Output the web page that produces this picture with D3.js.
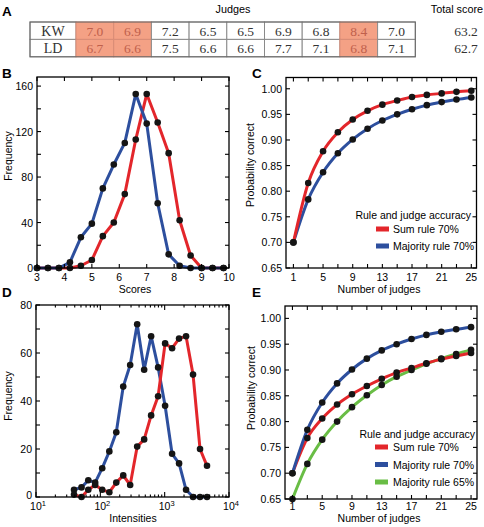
<!DOCTYPE html>
<html><head><meta charset="utf-8">
<script src="https://cdn.jsdelivr.net/npm/d3@7"></script>
<style>body{margin:0;background:#fff}svg{display:block}</style>
</head><body><svg id="c" width="484" height="527"></svg>
<script>
// ---------- data ----------
const judgeNames = ["KW", "LD"];
const scoresKW = [7.0, 6.9, 7.2, 6.5, 6.5, 6.9, 6.8, 8.4, 7.0];
const scoresLD = [6.7, 6.6, 7.5, 6.6, 6.6, 7.7, 7.1, 6.8, 7.1];
const highlightedJudges = [0, 1, 7];
const totalScores = [63.2, 62.7];

const scoreBins = [3.0, 3.4, 3.8, 4.2, 4.6, 5.0, 5.4, 5.8, 6.2, 6.6, 7.0, 7.4, 7.8, 8.2, 8.6, 9.0, 9.4, 9.8];
const scoreFreqBlue = [0, 0, 0, 5, 27, 39, 70, 91, 110, 153, 127, 57, 12, 2, 0, 0, 0, 0];
const scoreFreqRed  = [0, 0, 0, 0, 2, 7, 28, 40, 65, 113, 153, 128, 101, 42, 11, 0, 0, 0];
const scoreTicks = [3, 4, 5, 6, 7, 8, 9, 10];
const freqTicksB = [0, 40, 80, 120, 160];

const intensityBins = [39, 51, 65, 83, 107, 138, 177, 227, 291, 374, 480, 616, 791, 1016, 1304, 1675, 2150, 2761, 3545, 4552];
const intensityBlue = [3, 4, 7, 6, 12, 19, 27, 46, 55, 72, 53, 67, 54, 38, 18, 14, 3, 0, 0, 0];
const intensityRed  = [1, 0, 3, 5, 3, 2, 6, 9, 5, 21, 24, 34, 42, 64, 62, 66, 67, 51, 20, 13];
const freqTicksD = [0, 20, 40, 60, 80];

const nJudges = [1, 3, 5, 7, 9, 11, 13, 15, 17, 19, 21, 23, 25];
const sumRule70C  = [0.700, 0.816, 0.878, 0.915, 0.940, 0.957, 0.969, 0.977, 0.984, 0.988, 0.991, 0.994, 0.996];
const majority70  = [0.700, 0.784, 0.837, 0.874, 0.901, 0.922, 0.938, 0.950, 0.960, 0.968, 0.974, 0.979, 0.983];
const sumRule70E  = [0.700, 0.768, 0.806, 0.833, 0.853, 0.869, 0.883, 0.895, 0.904, 0.913, 0.921, 0.927, 0.933];
const majority65  = [0.650, 0.718, 0.765, 0.800, 0.828, 0.851, 0.871, 0.887, 0.900, 0.912, 0.922, 0.931, 0.939];
const judgeTickLabels = [1, 5, 9, 13, 17, 21, 25];
const probTicks = [0.65, 0.70, 0.75, 0.80, 0.85, 0.90, 0.95, 1.00];

// ---------- style ----------
const SANS = "'Liberation Sans', Arial, Helvetica, sans-serif";
const SERIF = "'Liberation Serif', 'Times New Roman', serif";
const RED = "#e3262b", BLUE = "#2d4f9e", GREEN = "#69bd45";
const svg = d3.select("#c");

// ---------- panel A: table ----------
(function () {
  const g = svg.append("g");
  const x0 = 30, firstW = 46, cellW = 37.7, y0 = 22, rowH = 17.4;
  const rows = [scoresKW, scoresLD];
  const xCell = d3.scaleLinear().domain([0, 9]).range([x0 + firstW, x0 + firstW + 9 * cellW]);
  const yRow = d3.scaleLinear().domain([0, 2]).range([y0, y0 + 2 * rowH]);
  rows.forEach((r, ri) => {
    g.append("rect").attr("x", x0).attr("y", yRow(ri)).attr("width", firstW).attr("height", rowH)
      .attr("fill", "#fff").attr("stroke", "#8a8a8a").attr("stroke-width", 1);
    g.append("text").attr("x", x0 + firstW / 2).attr("y", yRow(ri) + rowH / 2 + 0.5)
      .attr("text-anchor", "middle").attr("dominant-baseline", "central")
      .attr("font-family", SERIF).attr("font-size", 14).attr("fill", "#333").text(judgeNames[ri]);
    r.forEach((v, ci) => {
      const hl = highlightedJudges.includes(ci);
      g.append("rect").attr("x", xCell(ci)).attr("y", yRow(ri)).attr("width", cellW).attr("height", rowH)
        .attr("fill", hl ? "#f4a185" : "#fff").attr("stroke", hl ? "#d98c76" : "#8a8a8a").attr("stroke-width", 1);
      g.append("text").attr("x", xCell(ci) + cellW / 2).attr("y", yRow(ri) + rowH / 2 + 0.5)
        .attr("text-anchor", "middle").attr("dominant-baseline", "central")
        .attr("font-family", SERIF).attr("font-size", 13.5).attr("fill", hl ? "#c0604c" : "#333")
        .text(d3.format(".1f")(v));
    });
    g.append("text").attr("x", 466).attr("y", yRow(ri) + rowH / 2 + 0.5)
      .attr("text-anchor", "middle").attr("dominant-baseline", "central")
      .attr("font-family", SERIF).attr("font-size", 13.5).attr("fill", "#333").text(d3.format(".1f")(totalScores[ri]));
  });
  g.append("rect").attr("x", x0).attr("y", y0).attr("width", firstW + 9 * cellW).attr("height", 2 * rowH)
    .attr("fill", "none").attr("stroke", "#666").attr("stroke-width", 1);
  g.append("text").attr("x", 233).attr("y", 9).attr("text-anchor", "middle").attr("dominant-baseline", "central")
    .attr("font-family", SANS).attr("font-size", 10.8).text("Judges");
  g.append("text").attr("x", 483).attr("y", 9).attr("text-anchor", "end").attr("dominant-baseline", "central")
    .attr("font-family", SANS).attr("font-size", 10.8).text("Total score");
})();

// ---------- panel letters ----------
[["A", 2, 11], ["B", 2, 73], ["C", 252, 73], ["D", 2, 292], ["E", 252, 292]].forEach(([t, x, y]) => {
  svg.append("text").attr("x", x).attr("y", y).attr("dominant-baseline", "central")
    .attr("font-family", SANS).attr("font-weight", "bold").attr("font-size", 13.5).text(t);
});

// ---------- helpers ----------
function frame(g, x, y) {
  const [x1, x2] = x.range(), [y1, y2] = y.range();
  g.append("rect").attr("x", x1).attr("y", y2).attr("width", x2 - x1).attr("height", y1 - y2)
    .attr("fill", "none").attr("stroke", "#000").attr("stroke-width", 1.3);
}
function xTicks(g, x, y, vals, len) {
  const [y1, y2] = y.range();
  vals.forEach(v => {
    g.append("line").attr("x1", x(v)).attr("x2", x(v)).attr("y1", y1).attr("y2", y1 - len).attr("stroke", "#000").attr("stroke-width", 1.1);
    g.append("line").attr("x1", x(v)).attr("x2", x(v)).attr("y1", y2).attr("y2", y2 + len).attr("stroke", "#000").attr("stroke-width", 1.1);
  });
}
function yTicks(g, x, y, vals, len) {
  const [x1, x2] = x.range();
  vals.forEach(v => {
    g.append("line").attr("x1", x1).attr("x2", x1 + len).attr("y1", y(v)).attr("y2", y(v)).attr("stroke", "#000").attr("stroke-width", 1.1);
    g.append("line").attr("x1", x2).attr("x2", x2 - len).attr("y1", y(v)).attr("y2", y(v)).attr("stroke", "#000").attr("stroke-width", 1.1);
  });
}
function xLabels(g, x, y, vals, fmt, dy) {
  const yb = y.range()[0];
  vals.forEach(v => g.append("text").attr("x", x(v)).attr("y", yb + dy).attr("text-anchor", "middle")
    .attr("dominant-baseline", "central").attr("font-family", SANS).attr("font-size", 10.5).text(fmt(v)));
}
function yLabels(g, x, y, vals, fmt, dyFirst) {
  const xl = x.range()[0];
  vals.forEach((v, i) => g.append("text").attr("x", xl - 4).attr("y", y(v) - (i === 0 ? (dyFirst || 0) : 0)).attr("text-anchor", "end")
    .attr("dominant-baseline", "central").attr("font-family", SANS).attr("font-size", 10.5).text(fmt(v)));
}
function axisTitle(g, text, x, y, rotate) {
  const t = g.append("text").attr("text-anchor", "middle").attr("dominant-baseline", "central")
    .attr("font-family", SANS).attr("font-size", 10.5).text(text);
  if (rotate) t.attr("transform", `translate(${x},${y}) rotate(-90)`);
  else t.attr("x", x).attr("y", y);
}
function series(g, x, y, xs, ys, color, curve) {
  const line = d3.line().x((d, i) => x(xs[i])).y(d => y(d)).curve(curve || d3.curveLinear);
  g.append("path").datum(ys).attr("d", line).attr("fill", "none").attr("stroke", color)
    .attr("stroke-width", 3).attr("stroke-linejoin", "round").attr("stroke-linecap", "round");
}
function dots(g, x, y, xs, ys) {
  g.selectAll(null).data(ys).enter().append("circle").attr("cx", (d, i) => x(xs[i])).attr("cy", d => y(d))
    .attr("r", 3.3).attr("fill", "#151515");
}
function legend(g, rightX, titleY, items, swX, labX, itemY0, step) {
  g.append("text").attr("x", rightX).attr("y", titleY).attr("text-anchor", "end").attr("dominant-baseline", "central")
    .attr("font-family", SANS).attr("font-size", 10.5).text("Rule and judge accuracy");
  items.forEach(([lab, col], i) => {
    const yy = itemY0 + i * step;
    g.append("rect").attr("x", swX).attr("y", yy - 2.5).attr("width", 13).attr("height", 5).attr("fill", col);
    g.append("text").attr("x", labX).attr("y", yy).attr("dominant-baseline", "central")
      .attr("font-family", SANS).attr("font-size", 10.5).text(lab);
  });
}

// ---------- panel B ----------
(function () {
  const g = svg.append("g");
  const x = d3.scaleLinear().domain([3, 10]).range([37, 229]);
  const y = d3.scaleLinear().domain([0, 168]).range([268, 77]);
  series(g, x, y, scoreBins, scoreFreqRed, RED);
  series(g, x, y, scoreBins, scoreFreqBlue, BLUE);
  dots(g, x, y, scoreBins, scoreFreqRed);
  dots(g, x, y, scoreBins, scoreFreqBlue);
  frame(g, x, y);
  xTicks(g, x, y, scoreTicks, 4);
  yTicks(g, x, y, d3.range(0, 161, 20), 4);
  xLabels(g, x, y, scoreTicks, d3.format("d"), 8.5);
  yLabels(g, x, y, freqTicksB, d3.format("d"));
  axisTitle(g, "Scores", 135, 288.5);
  axisTitle(g, "Frequency", 8, 156, true);
})();

// ---------- panel C ----------
(function () {
  const g = svg.append("g");
  const x = d3.scaleLinear().domain([0, 25.7]).range([286, 476.5]);
  const y = d3.scaleLinear().domain([0.65, 1.022]).range([268, 77.5]);
  series(g, x, y, nJudges, majority70, BLUE, d3.curveMonotoneX);
  series(g, x, y, nJudges, sumRule70C, RED, d3.curveMonotoneX);
  dots(g, x, y, nJudges, majority70);
  dots(g, x, y, nJudges, sumRule70C);
  frame(g, x, y);
  xTicks(g, x, y, nJudges, 4);
  yTicks(g, x, y, probTicks, 4);
  xLabels(g, x, y, judgeTickLabels, d3.format("d"), 8.5);
  yLabels(g, x, y, probTicks, d3.format(".2f"));
  axisTitle(g, "Number of judges", 379, 289);
  axisTitle(g, "Probability correct", 250, 165, true);
  legend(g, 471, 215, [["Sum rule 70%", RED], ["Majority rule 70%", BLUE]], 376, 393, 229, 17);
})();

// ---------- panel D ----------
(function () {
  const g = svg.append("g");
  const x = d3.scaleLog().domain([10, 10000]).range([36, 229]);
  const y = d3.scaleLinear().domain([0, 80]).range([497, 305]);
  series(g, x, y, intensityBins, intensityBlue, BLUE);
  series(g, x, y, intensityBins, intensityRed, RED);
  dots(g, x, y, intensityBins, intensityBlue);
  dots(g, x, y, intensityBins, intensityRed);
  frame(g, x, y);
  const minor = [], major = [10, 100, 1000, 10000];
  [10, 100, 1000].forEach(d => d3.range(2, 10).forEach(k => minor.push(d * k)));
  xTicks(g, x, y, minor, 2.5);
  xTicks(g, x, y, major, 5);
  yTicks(g, x, y, d3.range(0, 81, 10), 4);
  const yb = y.range()[0];
  major.forEach(v => {
    const t = g.append("text").attr("x", x(v) + 2).attr("y", yb + 13).attr("text-anchor", "middle")
      .attr("font-family", SANS).attr("font-size", 10.5);
    t.append("tspan").text("10");
    t.append("tspan").attr("dy", -4.5).attr("font-size", 7.5).text(Math.round(Math.log10(v)));
  });
  yLabels(g, x, y, freqTicksD, d3.format("d"), 2);
  axisTitle(g, "Intensities", 133, 518);
  axisTitle(g, "Frequency", 8, 396, true);
})();

// ---------- panel E ----------
(function () {
  const g = svg.append("g");
  const x = d3.scaleLinear().domain([0, 25.8]).range([285, 477]);
  const y = d3.scaleLinear().domain([0.65, 1.024]).range([499, 306]);
  series(g, x, y, nJudges, majority65, GREEN, d3.curveMonotoneX);
  series(g, x, y, nJudges, sumRule70E, RED, d3.curveMonotoneX);
  series(g, x, y, nJudges, majority70, BLUE, d3.curveMonotoneX);
  dots(g, x, y, nJudges, majority65);
  dots(g, x, y, nJudges, sumRule70E);
  dots(g, x, y, nJudges, majority70);
  frame(g, x, y);
  xTicks(g, x, y, nJudges, 4);
  yTicks(g, x, y, probTicks, 4);
  xLabels(g, x, y, judgeTickLabels, d3.format("d"), 7);
  yLabels(g, x, y, probTicks, d3.format(".2f"));
  axisTitle(g, "Number of judges", 379, 518);
  axisTitle(g, "Probability correct", 251, 388, true);
  legend(g, 475, 434, [["Sum rule 70%", RED], ["Majority rule 70%", BLUE], ["Majority rule 65%", GREEN]], 375, 393, 447, 17.5);
})();
</script>
</body></html>
